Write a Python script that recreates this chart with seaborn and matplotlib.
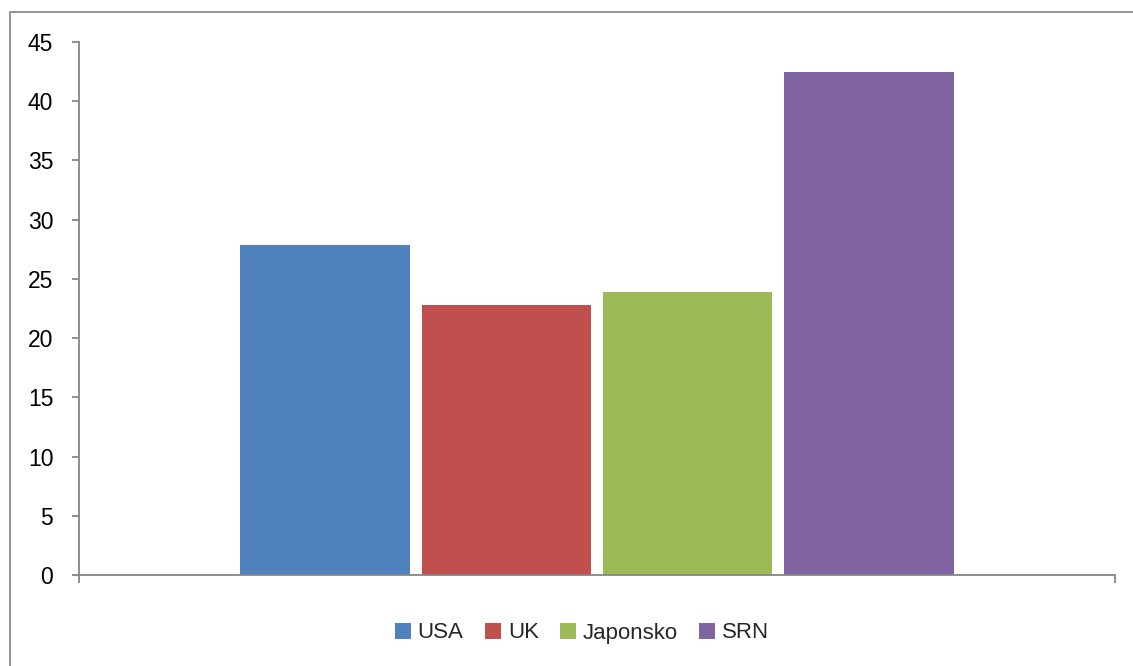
import matplotlib
matplotlib.use("Agg")
import matplotlib.pyplot as plt
from matplotlib.patches import Rectangle
import pandas as pd
import seaborn as sns

# Data
countries = ["USA", "UK", "Japonsko", "SRN"]
values = [27.9, 22.8, 23.9, 42.5]
colors = ["#4F81BD", "#C0504D", "#9BBB59", "#8064A2"]
y_ticks = [0, 5, 10, 15, 20, 25, 30, 35, 40, 45]

df = pd.DataFrame({"skupina": [""] * len(countries), "zeme": countries, "hodnota": values})

sns.set_theme(style="white")
plt.rcParams["font.family"] = ["Liberation Sans", "DejaVu Sans"]

axis_grey = "#868686"

fig = plt.figure(figsize=(11.33, 6.66), dpi=100)
ax = fig.add_axes([79 / 1133, 1 - 575 / 666, (1115 - 79) / 1133, (575 - 42) / 666])

sns.barplot(data=df, x="skupina", y="hodnota", hue="zeme", hue_order=countries,
            palette=colors, saturation=1, width=0.70, gap=0.067,
            linewidth=0, ax=ax, legend=True)

ax.set_xlim(-0.5, 0.5)
ax.set_ylim(0, 45)
ax.set_yticks(y_ticks)
ax.set_yticklabels([str(t) for t in y_ticks], fontsize=16.5, color="black")
ax.set_xticks([-0.5, 0.5])
ax.set_xticklabels(["", ""])
ax.set_xlabel("")
ax.set_ylabel("")

for side in ("top", "right"):
    ax.spines[side].set_visible(False)
for side in ("left", "bottom"):
    ax.spines[side].set_color(axis_grey)
    ax.spines[side].set_linewidth(1.3)

ax.tick_params(axis="y", direction="out", length=5, width=1.3, color=axis_grey,
               pad=13.5, left=True)
ax.tick_params(axis="x", direction="out", length=6, width=1.3, color=axis_grey,
               bottom=True)

handles, labels = ax.get_legend_handles_labels()
ax.get_legend().remove()
fig.legend(handles, labels, loc="center", bbox_to_anchor=(582 / 1133, 1 - 633 / 666),
           ncol=4, frameon=False, fontsize=16, handlelength=0.72, handleheight=0.72,
           handletextpad=0.32, columnspacing=0.95, borderaxespad=0)

# Outer chart frame
fig.patches.append(Rectangle((10 / 1133, -0.2), 1.5, 1 - 12 / 666 + 0.2,
                             transform=fig.transFigure, fill=False,
                             edgecolor="#8c8c8c", linewidth=1.3))

fig.savefig("out.png", dpi=100)
